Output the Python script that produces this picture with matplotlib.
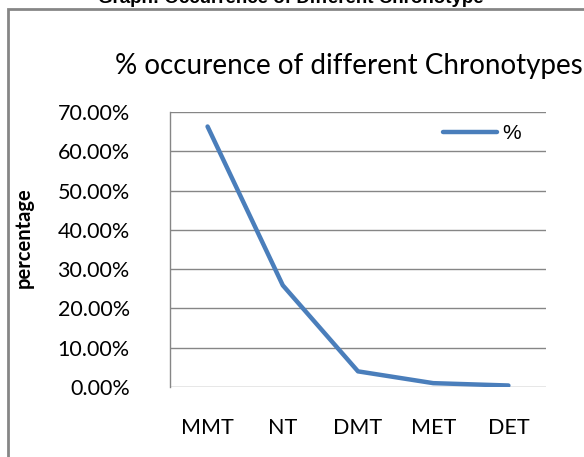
import matplotlib
matplotlib.use("Agg")
from matplotlib import pyplot as plt
from matplotlib.lines import Line2D
from matplotlib.patches import Rectangle
from matplotlib.ticker import FuncFormatter, MultipleLocator

categories = ["MMT", "NT", "DMT", "MET", "DET"]
percent = [66.3, 25.9, 4.0, 1.0, 0.4]
series_label = "%"

blue = "#4a7ebb"
grid_gray = "#868686"

fig = plt.figure(figsize=(5.84, 4.57), dpi=100)
ax = fig.add_axes([0.291, 0.153, 0.644, 0.602])

x = range(len(categories))
ax.plot(x, percent, color=blue, lw=3.2, solid_capstyle="round",
        solid_joinstyle="round", label=series_label)

ax.set_xlim(-0.5, len(categories) - 0.5)
ax.set_ylim(0, 70)
ax.yaxis.set_major_locator(MultipleLocator(10))
ax.yaxis.set_major_formatter(FuncFormatter(lambda v, _: f"{v:.2f}%"))
ax.set_xticks(list(x))
ax.set_xticklabels(categories)
ax.tick_params(axis="both", length=0, labelsize=15.5, labelcolor="black")
ax.tick_params(axis="x", pad=22)
ax.tick_params(axis="y", pad=29)
for lbl in ax.get_xticklabels() + ax.get_yticklabels():
    lbl.set_family("Lato")

ax.grid(axis="y", color=grid_gray, lw=1)
ax.set_axisbelow(True)
for side in ["top", "right", "bottom"]:
    ax.spines[side].set_visible(False)
ax.spines["left"].set_color(grid_gray)
ax.spines["left"].set_linewidth(1)

ax.set_ylabel("percentage", fontsize=14.5, fontweight="bold", family="Lato",
              labelpad=0)
ax.yaxis.set_label_coords((34 - 170) / 376, (387 - 238) / 275)

ax.legend(handles=[Line2D([0], [0], color=blue, lw=3.2, solid_capstyle="round")],
          labels=[series_label],
          loc="center left", bbox_to_anchor=((443 - 170) / 376, (387 - 134) / 275),
          frameon=False, borderpad=0, borderaxespad=0, handlelength=2.6,
          handletextpad=0.25, prop={"family": "Liberation Sans", "size": 15})

# outer chart frame (only left and top visible in the crop)
fig.patches.append(Rectangle((8 / 584, -0.1), 1.2, (457 - 9) / 457 + 0.1,
                             transform=fig.transFigure, fill=False,
                             edgecolor=grid_gray, lw=2))

fig.text(349 / 584, 1 - 66 / 457, "% occurence of different Chronotypes",
         ha="center", va="center", fontsize=20, family="Lato")
fig.text(291 / 584, 1 + 2 / 457, "Graph: Occurrence of Different Chronotype",
         ha="center", va="center", fontsize=13.5, fontweight="bold",
         family="Liberation Sans")

fig.savefig("out.png", dpi=100)
